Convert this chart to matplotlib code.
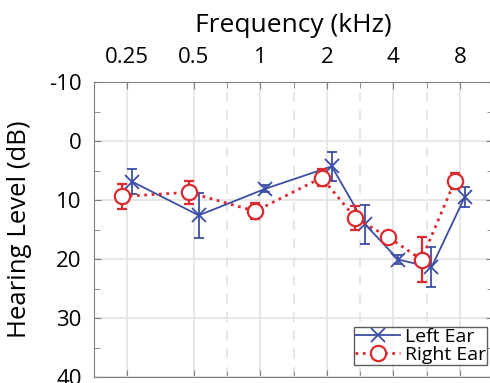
import numpy as np
import matplotlib
matplotlib.use("Agg")
import matplotlib.pyplot as plt
from matplotlib.ticker import FixedLocator, MultipleLocator

plt.rcParams["font.family"] = ["Open Sans", "DejaVu Sans"]
plt.rcParams["axes.unicode_minus"] = False

freqs = [0.25, 0.5, 1, 2, 3, 4, 6, 8]
tick_freqs = [0.25, 0.5, 1, 2, 4, 8]
tick_labels = ["0.25", "0.5", "1", "2", "4", "8"]
inter_freqs = [0.75, 1.5, 3, 6]

left_db = [6.9, 12.6, 8.1, 4.3, 14.1, 20.1, 21.4, 9.5]
left_err = [2.1, 3.8, 0.6, 2.5, 3.3, 0.8, 3.4, 1.7]
right_db = [9.4, 8.7, 11.9, 6.2, 13.0, 16.3, 20.1, 6.8]
right_err = [2.1, 2.0, 1.4, 1.4, 2.0, 0.5, 3.8, 1.4]

BLUE = "#3b4ea6"
RED = "#dc2a2e"
GRID = "#e3e3e3"
SPINE = "#808080"


def slot(f):
    # half-octave slots on the audiogram
    return np.round(2 * np.log2(np.asarray(f) / 0.25)) / 2


fig = plt.figure(figsize=(4.9, 3.83), dpi=100)
ax = fig.add_axes([94 / 490, 6 / 383, 399 / 490, 295 / 383])

x = slot(freqs)
eb_l = ax.errorbar(x + 0.075, left_db, yerr=left_err, color=BLUE, lw=1.3, marker="x",
                   ms=10, mew=1.3, capsize=3.5, elinewidth=1.3, zorder=3)
eb_r = ax.errorbar(x - 0.075, right_db, yerr=right_err, color=RED, lw=2, ls=":", marker="o",
                   ms=11, mew=1.6, mfc="white", capsize=3.5, elinewidth=1.6, zorder=4)

ax.set_xlim(-0.5, 5.5)
ax.set_ylim(40, -10)
ax.xaxis.set_major_locator(FixedLocator(slot(tick_freqs)))
ax.xaxis.set_minor_locator(FixedLocator(slot(inter_freqs)))
ax.set_xticklabels(tick_labels)
ax.yaxis.set_major_locator(MultipleLocator(10))
ax.yaxis.set_minor_locator(MultipleLocator(5))

ax.xaxis.tick_top()
ax.xaxis.set_label_position("top")
ax.tick_params(which="both", direction="in", top=True, bottom=True, left=True, right=True,
               colors=SPINE, labelcolor="black", labelsize=16)
ax.tick_params(which="major", length=5)
ax.tick_params(which="minor", length=4)
ax.tick_params(axis="x", pad=10)
ax.tick_params(axis="y", pad=9)

ax.grid(which="major", color=GRID, lw=1.2, zorder=0)
for f in inter_freqs:
    ax.axvline(slot(f), color=GRID, lw=1.2, ls=(0, (6, 5)), zorder=0)
for s in ax.spines.values():
    s.set_color(SPINE)

ax.set_xlabel("Frequency (kHz)", fontsize=19, labelpad=11)
ax.set_ylabel("Hearing Level (dB)", fontsize=18.5, labelpad=12)

# legend shows only line + marker, no error bars
leg = ax.legend([eb_l.lines[0], eb_r.lines[0]], ["Left Ear", "Right Ear"],
                loc="lower right", bbox_to_anchor=(0.985, 0.04), fontsize=14, frameon=True,
                fancybox=False, edgecolor="#333333", handlelength=2.3, borderpad=0.05,
                labelspacing=0.0, handletextpad=0.25, borderaxespad=0)
leg.get_frame().set_linewidth(1)

fig.savefig("out.png", dpi=100)
